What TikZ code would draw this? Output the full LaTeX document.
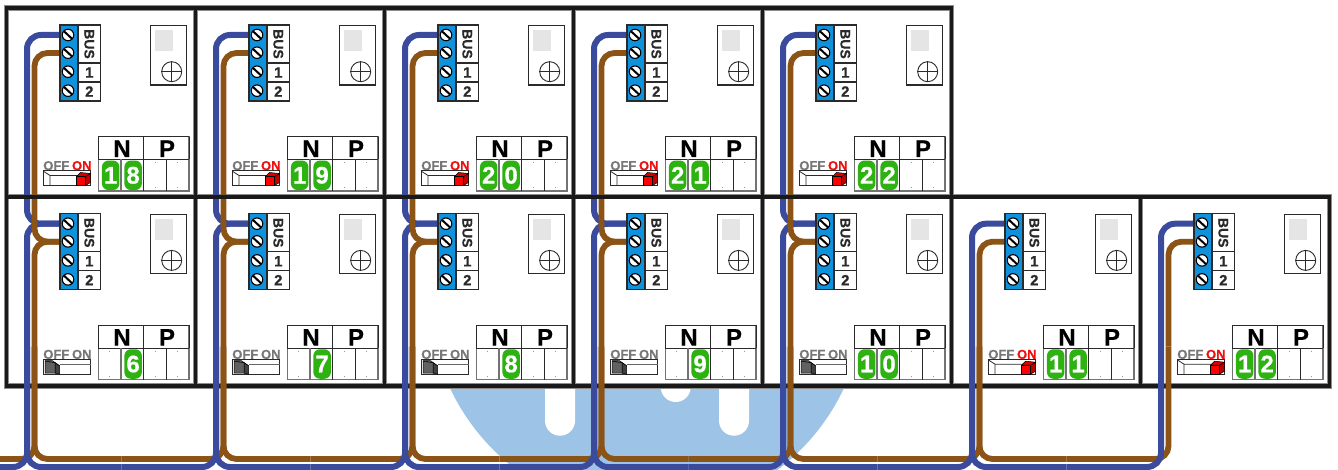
\documentclass[tikz,border=0pt]{standalone}
\usepackage{fontspec}
\setmainfont{Liberation Sans}[BoldFeatures={FakeBold=0.6}]
\definecolor{bgblue}{HTML}{9DC3E6}
\definecolor{wireblue}{HTML}{3A4A9C}
\definecolor{wirebrown}{HTML}{8C5317}
\definecolor{termblue}{HTML}{0F92DB}
\definecolor{pillgreen}{HTML}{2DB212}
\definecolor{offgray}{HTML}{777777}
\definecolor{onred}{HTML}{EE1111}
\definecolor{linedark}{HTML}{2A2A2A}
\tikzset{
  bluew/.style={draw=wireblue,line width=6pt,rounded corners=14pt},
  brownw/.style={draw=wirebrown,line width=5.8pt,rounded corners=13pt},
  frameline/.style={draw=black!90,line width=3.8pt},
  framehalo/.style={draw=black!45,line width=5.4pt},
  screw/.style={circle,draw=black,fill=white,line width=1.1pt,minimum size=11.5pt,inner sep=0pt},
  termlabel/.style={inner sep=0pt,font=\fontsize{15}{15}\selectfont\bfseries,text=linedark},
  head/.style={inner sep=0pt,font=\fontsize{24}{24}\selectfont\bfseries,text=black},
  pill/.style={fill=pillgreen,rounded corners=6.5pt,minimum width=17.5pt,minimum height=29.5pt,inner sep=0pt,
    font=\fontsize{24}{24}\selectfont\bfseries,text=white},
  swlabel/.style={inner sep=0pt,font=\fontsize{13}{13}\selectfont\bfseries},
  tline/.style={draw=linedark,line width=1pt},
  tgray/.style={draw=black!55,line width=1.1pt},
  dotmark/.style={fill=black!40},
}
\newcommand{\Cell}[4]{% name, cx, dx, digit
  \fill[dotmark] (#2-0.5,154.5) rectangle +(1,1);
  \fill[dotmark] (#2-0.5,179.2) rectangle +(1,1);
  \if\relax\detokenize{#4}\relax\else
    \node[pill] (#1) at (#3,167.3) {#4};
  \fi
}
\newcommand{\SwOn}[1]{%
  \node[swlabel,text=offgray] (#1off) at (49.8,157.7) {OFF};
  \node[swlabel,text=onred] (#1on) at (75.3,157.7) {ON};
  \draw[fill=white,draw=linedark,line width=1pt] (37,163) rectangle (84,178);
  \draw[linedark,line width=.8pt] (37,163.3) -- (43.5,167.5) -- (43.5,178) (43.5,167.5) -- (72,167.5);
  \draw[line width=.5pt,fill=red!75!black] (79,168.5) -- (84,165.5) -- (84,174.5) -- (79,177.5) -- cycle;
  \draw[line width=.5pt,fill=red!85!black] (70,168.5) -- (74,164.5) -- (84,165.5) -- (79,168.5) -- cycle;
  \draw[line width=.5pt,fill=red] (70,168.5) rectangle (79,177.5);
}
\newcommand{\SwOff}[1]{%
  \node[swlabel,text=offgray] (#1off) at (49.8,157.7) {OFF};
  \node[swlabel,text=offgray] (#1on) at (75.3,157.7) {ON};
  \draw[fill=white,draw=linedark,line width=1pt] (37,163) rectangle (84,178);
  \draw[black!60,line width=.8pt] (53,167.5) -- (84,167.5);
  \draw[line width=.5pt,fill=black!75] (48.5,166) -- (53,169) -- (53,177.5) -- (48.5,176.5) -- cycle;
  \draw[line width=.5pt,fill=black!45] (38.5,164) -- (46,164) -- (53,169) -- (48.5,166) -- cycle;
  \draw[line width=.5pt,fill=black!62] (38.5,164.5) -- (48.5,166) -- (48.5,176.5) -- (38.5,176.5) -- cycle;
}
\newcommand{\PanelCoords}[3]{% name, col, row
  \begin{scope}[shift={({#2*189+6.5},{#3*188.7+8})}]
    \coordinate (#1b) at (53.5,27);
    \coordinate (#1r) at (53.5,45);
    \coordinate (#1bc) at (20.5,27);
    \coordinate (#1rc) at (28,45);
    \coordinate (#1bv) at (20.5,150);
    \coordinate (#1rv) at (28,150);
    \coordinate (#1bb) at (20.5,270.3);
    \coordinate (#1rb) at (28,262.3);
    \coordinate (#1bm) at (115,270.3);
    \coordinate (#1rm) at (115,262.3);
  \end{scope}
}
\newcommand{\PanelBody}[6]{% name, col, row, d1, d2, switch macro
  \begin{scope}[shift={({#2*189+6.5},{#3*188.7+8})}]
    % terminal block
    \fill[termblue] (53.5,17) rectangle (71.5,93);
    \draw[fill=white,draw=linedark,line width=1.1pt] (71.5,17) rectangle (94,93);
    \draw[linedark,line width=1.1pt] (71.5,55) -- (94,55) (71.5,74) -- (94,74);
    \draw[linedark,line width=1.1pt] (53.5,17) rectangle (71.5,93);
    \foreach \sy/\sn in {27/a,44.7/b,63.7/c,82.7/d}{
      \node[screw] (#1s\sn) at (61.5,\sy) {};
      \draw[black,line width=2pt] (57.3,\sy-3.9) -- (65.7,\sy+3.9);
    }
    \node[termlabel,rotate=-90,font=\fontsize{14}{14}\selectfont\bfseries] (#1bus) at (82.8,36) {BUS};
    \node[termlabel] (#1one) at (82.8,64.5) {1};
    \node[termlabel] (#1two) at (82.8,83.5) {2};
    % small module
    \draw[fill=white,draw=linedark,line width=1.1pt] (144,17.5) rectangle (180,77);
    \fill[black!10] (148.5,22) rectangle (166.5,43);
    \node[circle,draw=linedark,line width=.9pt,minimum size=20pt,inner sep=0pt] (#1c) at (165.2,63.7) {};
    \draw[linedark,line width=.8pt] (#1c.north) -- (#1c.south) (#1c.west) -- (#1c.east);
    % table
    \draw[tgray] (91.8,128.7) rectangle (182.5,183);
    \draw[tline] (91.8,128.7) -- (182.5,128.7) (91.8,128.7) -- (91.8,151.5) (182.5,128.7) -- (182.5,151.5);
    \draw[tline] (91.8,151.5) -- (182.5,151.5) (137.2,128.7) -- (137.2,183);
    \draw[tgray] (114.5,151.5) -- (114.5,183);
    \draw[tline] (159.8,151.5) -- (159.8,183);
    \node[head] (#1n) at (115.5,140.7) {N};
    \node[head] (#1p) at (160.5,140.7) {P};
    \Cell{#1da}{103.1}{104.2}{#4}
    \Cell{#1db}{125.9}{126.6}{#5}
    \Cell{#1dc}{148.5}{148.5}{}
    \Cell{#1dd}{171}{171}{}
    #6{#1}
  \end{scope}
}
\begin{document}
\begin{tikzpicture}[x=1pt,y=-1pt]
\useasboundingbox (0,0) rectangle (1338,470);
\clip (0,0) rectangle (1338,470);
% background plug emblem
\fill[bgblue] (647,296) circle[radius=217.4pt];
\fill[white,rounded corners=14.9pt] (545,340) rectangle (575,435.7);
\fill[white,rounded corners=14.9pt] (719,340) rectangle (749,435.7);
\fill[white] (675.7,387) circle[radius=15pt];
% panels frames
\foreach \c in {0,...,4}{\fill[white] ({\c*189+6.5},8) rectangle +(189,188.7);}
\foreach \c in {0,...,6}{\fill[white] ({\c*189+6.5},196.7) rectangle +(189,189.3);}
\foreach \s in {framehalo,frameline}{
  \foreach \c in {0,...,4}{\draw[\s] ({\c*189+6.5},8) rectangle +(189,188.7);}
  \foreach \c in {0,...,6}{\draw[\s] ({\c*189+6.5},196.7) rectangle +(189,189.3);}
}
% coordinates
\PanelCoords{pa}{0}{0}\PanelCoords{pb}{1}{0}\PanelCoords{pc}{2}{0}\PanelCoords{pd}{3}{0}\PanelCoords{pe}{4}{0}
\PanelCoords{qa}{0}{1}\PanelCoords{qb}{1}{1}\PanelCoords{qc}{2}{1}\PanelCoords{qd}{3}{1}\PanelCoords{qe}{4}{1}\PanelCoords{qf}{5}{1}\PanelCoords{qg}{6}{1}
\coordinate (leftb) at (-8,467);
\coordinate (leftr) at (-8,459);
% brown: arrivals from the left, beneath the blue
\draw[brownw] (leftr) -- (qarb) -- (qarv);
\foreach \u/\v in {qa/qb,qb/qc,qc/qd,qd/qe,qe/qf,qf/qg}{
  \draw[brownw] (\u rm) -- (\v rb) -- (\v rv);
}
% blue wires
\foreach \u/\v in {pa/qa,pb/qb,pc/qc,pd/qd,pe/qe}{
  \draw[bluew] (\u b) -- (\u bc) -- (\v bc) -- (\v b);
}
\draw[bluew] (leftb) -- (qabb) -- (qabc) -- (qab);
\foreach \u/\v in {qa/qb,qb/qc,qc/qd,qd/qe,qe/qf,qf/qg}{
  \draw[bluew] (\u bm) -- (\v bb) -- (\v bc) -- (\v b);
  \draw[bluew] (\u bv) -- (\u bb) -- (\u bm);
}
% brown wires on top
\foreach \u/\v in {pa/qa,pb/qb,pc/qc,pd/qd,pe/qe}{
  \draw[brownw] (\u r) -- (\u rc) -- (\v rc) -- (\v r);
}
\foreach \u/\v in {qa/qb,qb/qc,qc/qd,qd/qe,qe/qf,qf/qg}{
  \draw[brownw] (\u r) -- (\u rc) -- (\u rb) -- (\u rm);
}
\draw[brownw] (qgr) -- (qgrc) -- (qgrv);
% middle rail over the wires
\draw[frameline] (6.5,196.7) -- (951.5,196.7);
% panel contents
\PanelBody{pa}{0}{0}{1}{8}{\SwOn}
\PanelBody{pb}{1}{0}{1}{9}{\SwOn}
\PanelBody{pc}{2}{0}{2}{0}{\SwOn}
\PanelBody{pd}{3}{0}{2}{1}{\SwOn}
\PanelBody{pe}{4}{0}{2}{2}{\SwOn}
\PanelBody{qa}{0}{1}{}{6}{\SwOff}
\PanelBody{qb}{1}{1}{}{7}{\SwOff}
\PanelBody{qc}{2}{1}{}{8}{\SwOff}
\PanelBody{qd}{3}{1}{}{9}{\SwOff}
\PanelBody{qe}{4}{1}{1}{0}{\SwOff}
\PanelBody{qf}{5}{1}{1}{1}{\SwOn}
\PanelBody{qg}{6}{1}{1}{2}{\SwOn}
\end{tikzpicture}
\end{document}
